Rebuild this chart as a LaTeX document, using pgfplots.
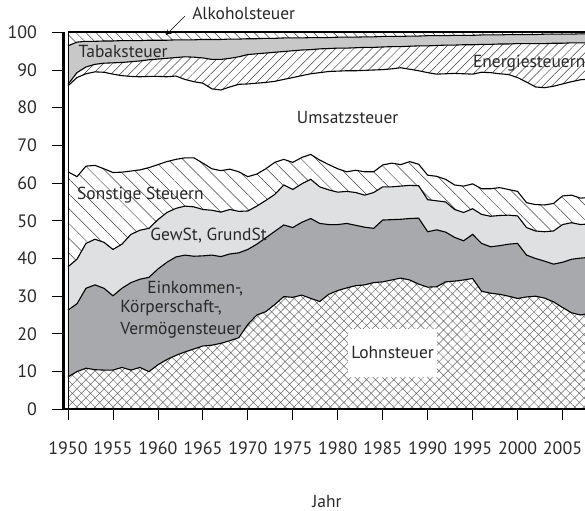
\documentclass[border=0pt]{standalone}
\usepackage{fontspec}
\setmainfont{PT Sans}
\usepackage{pgfplots}
\pgfplotsset{compat=1.18}
\usepackage{pgfplotstable}
\usepgfplotslibrary{fillbetween}
\usetikzlibrary{patterns.meta,arrows.meta}

\definecolor{darkg}{RGB}{168,169,172}
\definecolor{lightg}{RGB}{223,224,226}
\definecolor{tabg}{RGB}{200,200,201}
\definecolor{hatchg}{RGB}{105,105,105}
\definecolor{txt}{RGB}{40,40,40}

\pgfplotstableread{
year Z L E G S U En T A
1950 0 8.6 26.3 37.8 63.0 85.8 86.2 96.4 100
1951 0 10.0 28.0 39.8 61.7 88.0 89.3 97.4 100
1952 0 10.9 32.1 44.0 64.5 89.0 90.8 97.6 100
1953 0 10.5 33.0 45.1 64.7 89.5 91.5 97.6 100
1954 0 10.4 32.1 44.3 63.8 89.4 91.8 97.7 100
1955 0 10.4 30.1 42.4 62.8 88.9 91.9 97.7 100
1956 0 11.1 32.1 43.8 62.9 88.5 92.0 97.8 100
1957 0 10.4 33.6 46.4 63.2 88.3 92.2 97.8 100
1958 0 11.1 34.5 47.5 63.5 88.2 92.4 97.8 100
1959 0 10.0 35.0 48.0 64.1 88.3 92.7 97.9 100
1960 0 11.8 37.2 50.3 64.9 88.3 92.9 97.9 100
1961 0 13.2 39.0 52.2 65.7 88.2 93.1 97.9 100
1962 0 14.3 40.4 53.3 66.3 88.4 93.3 98.0 100
1963 0 15.2 40.9 53.9 66.7 87.5 93.5 98.0 100
1964 0 16.0 40.6 53.7 66.7 86.9 93.4 98.0 100
1965 0 16.8 40.7 53.0 65.3 86.5 93.2 98.1 100
1966 0 17.0 40.9 52.8 63.8 85.0 92.8 98.1 100
1967 0 17.5 40.5 52.3 63.3 84.7 92.8 98.1 100
1968 0 18.2 41.2 53.0 63.7 85.5 93.1 98.2 100
1969 0 19.0 41.5 52.5 63.0 86.2 93.5 98.2 100
1970 0 22.5 42.4 52.6 61.7 86.3 94.1 98.3 100
1971 0 25.0 43.8 53.9 62.4 86.5 94.3 98.3 100
1972 0 25.9 45.5 55.4 63.8 86.7 94.5 98.4 100
1973 0 27.8 47.2 57.0 65.5 87.0 94.7 98.4 100
1974 0 29.9 48.9 59.5 66.3 87.5 94.9 98.5 100
1975 0 29.7 48.2 58.3 65.5 88.0 95.1 98.5 100
1976 0 30.3 49.6 59.8 66.8 88.5 95.3 98.5 100
1977 0 29.4 50.6 61.0 67.6 89.0 95.4 98.6 100
1978 0 28.6 49.3 59.0 66.1 89.3 95.6 98.6 100
1979 0 30.5 49.0 58.2 64.9 89.6 95.7 98.6 100
1980 0 31.5 49.0 57.6 63.8 89.7 95.8 98.7 100
1981 0 32.2 49.3 57.8 63.0 89.8 95.8 98.7 100
1982 0 32.8 48.8 57.5 63.4 89.8 95.9 98.7 100
1983 0 33.0 48.3 56.8 63.0 89.9 96.0 98.8 100
1984 0 33.6 48.0 57.5 63.0 90.0 96.0 98.8 100
1985 0 33.8 50.2 59.0 64.8 90.1 96.1 98.9 100
1986 0 34.3 50.3 59.0 65.3 90.3 96.2 98.9 100
1987 0 34.8 50.4 59.2 64.9 90.6 96.2 98.9 100
1988 0 34.3 50.6 59.4 65.7 90.2 96.3 99.0 100
1989 0 33.2 50.7 59.3 65.0 89.8 96.4 99.0 100
1990 0 32.4 47.1 55.6 62.1 89.3 96.4 99.1 100
1991 0 32.5 47.6 55.3 61.8 88.9 96.5 99.1 100
1992 0 33.8 47.0 55.0 61.0 89.0 96.6 99.1 100
1993 0 34.0 45.6 53.0 59.5 89.1 96.6 99.2 100
1994 0 34.3 44.7 52.2 59.2 89.0 96.7 99.2 100
1995 0 34.7 46.4 53.2 59.8 88.9 96.7 99.2 100
1996 0 31.3 44.0 51.7 58.5 89.4 96.8 99.3 100
1997 0 30.8 43.1 51.2 58.5 89.3 96.8 99.3 100
1998 0 30.5 43.4 51.4 58.8 89.0 96.9 99.3 100
1999 0 30.0 43.8 51.5 58.3 88.8 96.9 99.4 100
2000 0 29.4 44.0 51.3 57.8 88.0 97.0 99.4 100
2001 0 29.8 40.9 48.2 54.8 86.8 97.0 99.4 100
2002 0 30.0 40.0 47.3 54.3 85.5 97.0 99.4 100
2003 0 29.5 39.3 47.1 54.2 85.3 97.0 99.5 100
2004 0 28.5 38.5 47.3 54.6 85.7 97.1 99.5 100
2005 0 27.0 39.0 49.0 56.6 86.3 97.1 99.5 100
2006 0 25.6 39.8 49.5 56.8 86.9 97.2 99.5 100
2007 0 25.0 40.1 49.0 56.0 87.4 97.2 99.6 100
2008 0 25.5 40.3 49.2 56.2 87.6 97.2 99.6 100
}\data

\pgfplotsset{
  frame/.style={
    at={(63.5bp,101.7bp)}, anchor=south west,
    scale only axis, width=521.5bp, height=377bp,
    xmin=1949.5, xmax=2007.5, ymin=0, ymax=100,
  }
}

\begin{document}
\begin{tikzpicture}
\begin{axis}[
  frame,
  clip=false,
  axis line style={draw=none},
  xtick=\empty, ytick=\empty,
]
\addplot[draw=none, name path=Z] table[x=year,y=Z]{\data};
\addplot[black, line width=1.1bp, name path=L] table[x=year,y=L]{\data};
\addplot[black, line width=1.1bp, name path=E] table[x=year,y=E]{\data};
\addplot[black, line width=1.1bp, name path=G] table[x=year,y=G]{\data};
\addplot[black, line width=1.1bp, name path=S] table[x=year,y=S]{\data};
\addplot[black, line width=1.1bp, name path=U] table[x=year,y=U]{\data};
\addplot[black, line width=1.1bp, name path=En] table[x=year,y=En]{\data};
\addplot[black, line width=1.1bp, name path=T] table[x=year,y=T]{\data};
\addplot[black, line width=1.8bp, name path=A] table[x=year,y=A]{\data};

\addplot[pattern={Hatch[angle=45,distance=6.4bp,line width=0.5bp]}, pattern color=hatchg] fill between[of=Z and L];
\addplot[fill=darkg] fill between[of=L and E];
\addplot[fill=lightg] fill between[of=E and G];
\addplot[pattern={Lines[angle=-45,distance=10.5bp,line width=0.5bp]}, pattern color=black!75] fill between[of=G and S];
\addplot[fill=white] fill between[of=S and U];
\addplot[pattern={Lines[angle=45,distance=6.4bp,line width=0.5bp]}, pattern color=black!75] fill between[of=U and En];
\addplot[fill=tabg] fill between[of=En and T];
\addplot[pattern={Lines[angle=-45,distance=7bp,line width=0.5bp]}, pattern color=black!75] fill between[of=T and A];

\draw[line width=0.5bp] (axis cs:1950,0) -- (axis cs:1950,100);

\begin{scope}[every node/.style={font=\fontsize{17.5}{20}\selectfont, text=txt, inner sep=0pt}]
\node[anchor=west] at (axis cs:1951.15,94.8) {Tabaksteuer};
\node[anchor=west] at (axis cs:1995.03,91.8) {Energiesteuern};
\node at (axis cs:1981.1,77.3) {Umsatzsteuer};
\node[anchor=west] at (axis cs:1951.0,56.9) {Sonstige Steuern};
\node[anchor=west] at (axis cs:1959.15,46.0) {GewSt, GrundSt};
\node[anchor=west] at (axis cs:1958.8,32.1) {Einkommen-,};
\node[anchor=west] at (axis cs:1955.8,26.8) {Körperschaft-,};
\node[anchor=west] at (axis cs:1955.8,21.0) {Vermögensteuer};
\node[fill=white, minimum width=89bp, minimum height=48bp] at (axis cs:1986.1,15.0) {Lohnsteuer};
\node[anchor=west] at (axis cs:1963.8,104.9) {Alkoholsteuer};
\end{scope}
\draw[-{To[length=5bp,width=6bp]}, line width=0.6bp] (axis cs:1963.0,104.3) -- (axis cs:1960.9,99.3);
\end{axis}
\begin{axis}[
  frame,
  axis x line*=bottom, axis y line*=left,
  axis line style={-, line width=2.2bp},
  xtick={1950,1955,...,2005}, ytick={0,10,...,100},
  tick align=outside, major tick length=11bp,
  tick style={draw=black, line width=0.8bp},
  xticklabel style={yshift=-18bp},
  yticklabel style={xshift=-12bp},
  /pgf/number format/1000 sep={},
  /pgf/number format/assume math mode=true,
  tick label style={font=\fontsize{18}{21}\selectfont, text=txt},
]
\end{axis}
\foreach \i in {0,...,11} {
  \draw[line width=0.8bp] ({68bp+\i*44.957bp},101.7bp) -- ({68bp+\i*44.957bp},90.7bp);
}
\foreach \i in {0,...,10} {
  \draw[line width=0.8bp] (63.5bp,{101.7bp+\i*37.7bp}) -- (52.5bp,{101.7bp+\i*37.7bp});
}
\node[anchor=base, inner sep=0pt, font=\fontsize{17.5}{20}\selectfont, text=txt] at (327bp,3.5bp) {Jahr};
\pgfresetboundingbox
\useasboundingbox (0,0) rectangle (585bp,511bp);
\end{tikzpicture}
\end{document}
